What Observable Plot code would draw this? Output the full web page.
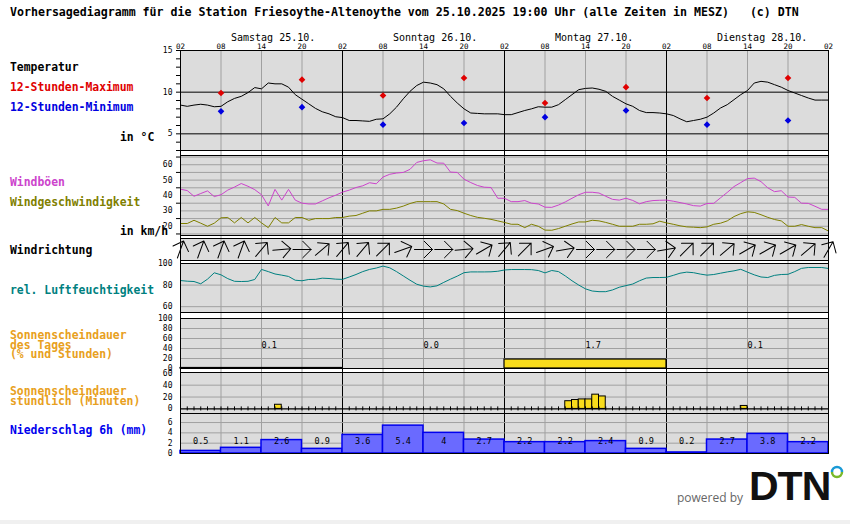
<!DOCTYPE html>
<html><head><meta charset="utf-8">
<script src="https://cdn.jsdelivr.net/npm/d3@7"></script>
<script src="https://cdn.jsdelivr.net/npm/@observablehq/plot@0.6"></script>
<style>
body{margin:0;background:#fff}
#c{position:relative;width:850px;height:524px;overflow:hidden;background:#fff;font-family:"DejaVu Sans Mono",monospace}
.lab{position:absolute;font-weight:bold;font-size:11.4px;line-height:13px;white-space:pre;z-index:5}
</style></head><body><div id="c"></div>
<script>
// ---- time axis (hour offset from Sa 02:00) ----
const hourLabels = ["02","08","14","20","02","08","14","20","02","08","14","20","02","08","14","20","02"];
const sixHourTicks = [0,6,12,18,24,30,36,42,48,54,60,66,72,78,84,90,96];
const gridHours = [6,12,18,30,36,42,54,60,66,78,84,90];
const dayHours = [0,24,48,72,96];
const dayNames = ["Samstag 25.10.","Sonntag 26.10.","Montag 27.10.","Dienstag 28.10."];
const dayStart = [0,24,48,72];

// ---- temperature (hourly, °C) ----
const temperature = [8.45,8.3,8.45,8.55,8.45,8.25,8.3,8.85,9.25,9.5,
 9.95,10.55,10.4,11.1,11.0,11.0,10.6,9.7,9.15,8.6,
 8.05,7.65,7.4,7.05,6.95,6.6,6.6,6.55,6.5,6.75,
 6.8,7.4,8.2,9.2,10.1,10.8,11.2,11.1,10.9,10.4,
 9.5,8.7,8.0,7.5,7.45,7.4,7.4,7.4,7.3,7.3,
 7.55,7.8,8.0,8.25,8.2,8.2,8.5,9.1,9.7,10.3,
 10.45,10.5,10.35,10.1,9.5,9.05,8.6,8.3,7.8,7.55,
 7.55,7.5,7.4,7.2,6.8,6.45,6.6,6.75,7.0,7.5,
 8.1,8.5,9.1,9.7,10.2,11.1,11.3,11.2,10.9,10.6,
 10.2,9.9,9.6,9.3,9.05,9.05,9.05];
const extremeHours = [6,18,30,42,54,66,78,90];
const tempMax = [9.9,11.5,9.6,11.7,8.7,10.6,9.3,11.7];
const tempMin = [7.7,8.2,6.1,6.3,7.0,7.8,6.1,6.6];

// ---- wind (hourly, km/h) ----
const gusts = [44.1,43.2,39.5,41.3,43.0,39.3,40.5,43.5,45.5,47.8,
 46.0,43.8,40.5,33.2,44.0,37.0,44.0,37.0,35.0,34.5,
 34.5,36.5,38.5,40.2,42.2,43.5,45.2,46.3,48.3,47.6,
 52.0,53.8,54.6,55.0,57.0,61.5,62.6,63.2,61.1,61.0,
 55.2,55.0,50.6,48.4,46.5,45.4,45.2,38.2,38.2,36.0,
 36.0,36.7,35.0,34.5,32.4,32.3,33.8,35.8,38.2,40.5,
 42.1,42.1,41.6,39.5,37.5,37.0,38.2,36.8,34.6,36.0,
 36.7,36.9,37.0,36.3,35.4,34.5,33.4,33.1,34.8,34.9,
 38.5,42.0,45.8,48.4,51.0,51.3,49.0,45.0,42.5,43.1,
 39.0,38.8,35.0,34.9,33.0,31.0,31.0];
const windSpeed = [21.8,21.8,23.9,22.0,20.0,22.0,25.5,25.7,22.2,25.7,
 22.2,25.7,22.2,19.1,25.7,22.2,22.2,25.7,25.7,23.9,
 25.0,25.0,25.0,25.7,25.7,26.6,27.0,28.5,30.0,30.0,
 31.0,31.0,31.8,33.1,34.8,36.0,36.0,36.0,36.0,34.5,
 31.0,30.2,28.5,27.0,25.8,25.2,24.5,23.5,22.5,21.3,
 21.3,19.1,21.3,20.0,17.5,17.4,18.5,20.0,21.5,22.8,
 22.8,23.9,23.5,22.5,21.3,20.0,20.0,20.0,21.3,21.3,
 21.6,23.3,22.2,21.3,20.3,19.6,19.4,19.1,19.6,21.3,
 22.0,23.5,26.3,28.2,29.4,29.0,27.5,25.8,24.4,23.5,
 20.0,20.0,21.1,20.0,19.1,19.1,16.9];
const windDirHours = [0,3,6,9,12,15,18,21,24,27,30,33,36,39,42,45,48,51,54,57,60,63,66,69,72,75,78,81,84,87,90,93,96];
const windDir = [200,200,200,200,220,265,270,230,220,220,225,250,270,270,265,240,220,225,250,260,270,270,270,270,260,225,225,230,240,240,240,230,210];

// ---- relative humidity (hourly, %) ----
const humidity = [84.2,83.6,83.3,81.2,85.5,91.4,89.5,86,83.5,83.3,
 83.5,85.2,94.5,92.5,90.3,89.2,88,84.5,84,85.2,
 85.3,86.4,86.1,85.5,85.3,87.5,89.8,92.5,94.5,95.8,
 97.6,96,92.5,88.5,84.5,80.8,79,78.3,79.3,82.5,
 85.5,88.3,91.5,92.2,92.2,92.2,92.3,92.8,94,94.4,
 94.4,94.4,94.3,93.5,91.3,93.5,92.5,88.5,84,80,
 76.5,74.5,73.9,73.9,75.5,78,79.5,81,84,86.5,
 87,87,87.2,89,91,92,91.5,90.2,89.2,89.8,
 91,92.2,93.2,94.6,92,89.5,87.5,87,89,89.8,
 90,92.5,95.5,96.3,96.3,96.3,95.4];

// ---- sunshine ----
const sunDayPct = [1,0,18,0];
const sunDayText = ["0.1","0.0","1.7","0.1"];
const sunHourX = [14,57,58,59,60,61,62,83];
const sunHourMin = [7,13,15,16,16,24,21,5];
const hourTicks = d3.range(1,96);

// ---- precipitation 6h (mm) ----
const precipStart = [0,6,12,18,24,30,36,42,48,54,60,66,72,78,84,90];
const precip = [0.5,1.1,2.6,0.9,3.6,5.4,4,2.7,2.2,2.2,2.4,0.9,0.2,2.7,3.8,2.2];
const precipText = ["0.5","1.1","2.6","0.9","3.6","5.4","4","2.7","2.2","2.2","2.4","0.9","0.2","2.7","3.8","2.2"];

// ---- styling ----
const BG = "#dcdcdc", GRID = "#a0a0a0", MONO = '"DejaVu Sans Mono", monospace';
const YELLOW = "#f8dc1c";
const C = document.getElementById("c");

function panel({top, bottom, domain, mt = 0, mb = 0, marks = [], bg = BG, xAxis = false, yAxis = false}) {
  const svg = Plot.plot({
    width: 850, height: bottom - top + mt + mb,
    marginLeft: 180, marginRight: 22, marginTop: mt, marginBottom: mb,
    x: Object.assign({domain: [0, 96]}, xAxis ? {} : {axis: null}),
    y: Object.assign({domain}, yAxis ? {} : {axis: null}),
    style: {overflow: "visible", background: "transparent", fontFamily: MONO, fontSize: "8px", color: "black"},
    marks: [
      bg ? Plot.frame({fill: bg, stroke: null}) : null,
      Plot.ruleX(gridHours, {stroke: GRID}),
      Plot.ruleX(dayHours, {stroke: "black"}),
      ...marks,
      Plot.frame({stroke: "black"})
    ].filter(Boolean)
  });
  svg.style.position = "absolute";
  svg.style.left = "0px";
  svg.style.top = (top - mt) + "px";
  C.append(svg);
}
const yLabels = (ticks) => Plot.axisY(ticks, {tickSize: 0, tickPadding: 8, label: null, fontSize: 8});
const yTicks = (ticks) => Plot.axisY(ticks, {tickSize: 4, tickFormat: () => "", label: null});

// base layer: vertical lines through the gaps
panel({top: 50, bottom: 453, domain: [0, 1], bg: null});

// temperature
const tData = temperature.map((v, h) => ({h, v}));
panel({top: 50, bottom: 150, mt: 50, domain: [3, 15], xAxis: true, yAxis: true, marks: [
  Plot.ruleY([5, 10], {stroke: "black"}),
  Plot.line(tData, {x: "h", y: "v", stroke: "black", strokeWidth: 1}),
  Plot.dot(tempMax, {x: (d, i) => extremeHours[i], y: d => d, symbol: "diamond2", r: 3, fill: "#e00000", stroke: null}),
  Plot.dot(tempMin, {x: (d, i) => extremeHours[i], y: d => d, symbol: "diamond2", r: 3, fill: "#0000e0", stroke: null}),
  yLabels([5, 10, 15]),
  yTicks(d3.range(3, 16)),
  Plot.axisX(sixHourTicks, {anchor: "top", tickSize: 0, tickPadding: 2, label: null, fontSize: 7.5, tickFormat: h => hourLabels[h / 6]}),
  Plot.text(dayNames, {x: (d, i) => dayStart[i], text: d => d, frameAnchor: "top", dy: -17, dx: 50.5, textAnchor: "start", fontSize: 10})
]});

// wind
const gData = gusts.map((v, h) => ({h, v}));
const sData = windSpeed.map((v, h) => ({h, v}));
panel({top: 155, bottom: 235, domain: [14, 66], yAxis: true, marks: [
  Plot.ruleY(d3.range(15, 66, 5), {stroke: GRID}),
  Plot.line(gData, {x: "h", y: "v", stroke: "#cc44cc", strokeWidth: 1}),
  Plot.line(sData, {x: "h", y: "v", stroke: "#808000", strokeWidth: 1}),
  yLabels([20, 30, 40, 50, 60]),
  yTicks([15, 25, 35, 45, 55, 65])
]});

// wind direction
panel({top: 238, bottom: 260, domain: [0, 1], marks: [
  Plot.vector(windDir, {x: (d, i) => windDirHours[i], frameAnchor: "middle", rotate: d => d + 180, length: 18, anchor: "middle", r: 8, stroke: "black", strokeWidth: 1})
]});

// humidity
const hData = humidity.map((v, h) => ({h, v}));
panel({top: 263, bottom: 312, domain: [54.6, 100], yAxis: true, marks: [
  Plot.ruleY([60, 80], {stroke: GRID}),
  Plot.line(hData, {x: "h", y: "v", stroke: "#008080", strokeWidth: 1}),
  yLabels([60, 80, 100])
]});

// sunshine per day
const sdData = sunDayPct.map((p, i) => ({x1: dayStart[i], x2: dayStart[i] + 24, p, t: sunDayText[i]}));
panel({top: 318, bottom: 368, domain: [0, 100], yAxis: true, marks: [
  Plot.ruleY([20, 40, 60, 80], {stroke: GRID}),
  Plot.rect(sdData.filter(d => d.p > 0), {x1: "x1", x2: "x2", y1: 0, y2: "p", fill: YELLOW, stroke: "black", strokeWidth: 1.2}),
  Plot.text(sdData, {x: d => d.x1 + 12, text: "t", frameAnchor: "bottom", dy: -21, textAnchor: "start", fontSize: 8.5}),
  yLabels([0, 20, 40, 60, 80, 100])
]});

// sunshine hourly
const shData = sunHourMin.map((m, i) => ({x1: sunHourX[i], x2: sunHourX[i] + 1, m}));
panel({top: 372, bottom: 413, domain: [-7.7, 61.3], yAxis: true, marks: [
  Plot.ruleY([20, 40], {stroke: GRID}),
  Plot.rect(shData, {x1: "x1", x2: "x2", y1: 0, y2: "m", fill: YELLOW, stroke: "black", strokeWidth: 1}),
  Plot.ruleY([0], {stroke: "black", strokeWidth: 1.3}),
  Plot.ruleX(hourTicks, {y1: -3.4, y2: 3.4, stroke: "black"}),
  yLabels([0, 20, 40, 60])
]});

// precipitation
const pData = precip.map((v, i) => ({x1: precipStart[i], x2: precipStart[i] + 6, v, t: precipText[i]}));
panel({top: 413, bottom: 453, domain: [0, 7.75], yAxis: true, marks: [
  Plot.ruleY([2, 4, 6], {stroke: GRID}),
  Plot.rect(pData, {x1: "x1", x2: "x2", y1: 0, y2: "v", fill: "#6a6aff", stroke: "#0000ee", strokeWidth: 1.5}),
  Plot.text(pData, {x: d => d.x1 + 3, text: "t", frameAnchor: "bottom", dy: -10, fontSize: 8.5, fill: "black"}),
  yLabels([0, 2, 4, 6])
]});

// ---- HTML labels ----
function lab(text, x, yc, color, extra = "") {
  const d = document.createElement("div");
  d.className = "lab";
  d.style.left = x + "px";
  d.style.top = (yc - 6.5) + "px";
  d.style.color = color;
  d.textContent = text;
  if (extra) d.style.cssText += extra;
  C.append(d);
}
lab("Vorhersagediagramm für die Station Friesoythe-Altenoythe vom 25.10.2025 19:00 Uhr (alle Zeiten in MESZ)   (c) DTN", 10, 12, "black", "font-size:11.6px");
lab("Temperatur", 10, 67, "black");
lab("12-Stunden-Maximum", 10, 87, "#e00000");
lab("12-Stunden-Minimum", 10, 107, "#0000e0");
lab("in °C", 120, 137, "black");
lab("Windböen", 10, 182, "#cc44cc");
lab("Windgeschwindigkeit", 10, 202, "#808000");
lab("in km/h", 120, 231, "black");
lab("Windrichtung", 10, 250, "black");
lab("rel. Luftfeuchtigkeit", 10, 290, "#008080");
lab("Sonnenscheindauer\ndes Tages\n(% und Stunden)", 10, 335, "#e8a020", "line-height:9.7px;top:331px");
lab("Sonnenscheindauer\nstündlich (Minuten)", 10, 390, "#e8a020", "line-height:10px;top:386px");
lab("Niederschlag 6h (mm)", 10, 430, "#0000ee");

// ---- logo ----
const pw = document.createElement("div");
pw.textContent = "powered by";
pw.style.cssText = 'position:absolute;left:677px;top:489px;font:12px "Open Sans",sans-serif;color:#666';
C.append(pw);
const dtn = document.createElement("div");
dtn.textContent = "DTN";
dtn.style.cssText = 'position:absolute;left:749px;top:462px;font:bold 41px "Liberation Sans",Arial,sans-serif;color:#111;letter-spacing:-1px;line-height:48px';
C.append(dtn);
const ring = document.createElementNS("http://www.w3.org/2000/svg", "svg");
ring.setAttribute("width", "16"); ring.setAttribute("height", "16");
ring.style.cssText = "position:absolute;left:829px;top:464px";
ring.innerHTML = '<path d="M3,8 A5,5 0 0 1 13,8" fill="none" stroke="#1a9ad6" stroke-width="2.5"/><path d="M13,8 A5,5 0 0 1 3,8" fill="none" stroke="#7ab929" stroke-width="2.5"/>';
C.append(ring);
const foot = document.createElement("div");
foot.style.cssText = "position:absolute;left:0;top:520px;width:850px;height:4px;background:#f0f0f0";
C.append(foot);
</script></body></html>
